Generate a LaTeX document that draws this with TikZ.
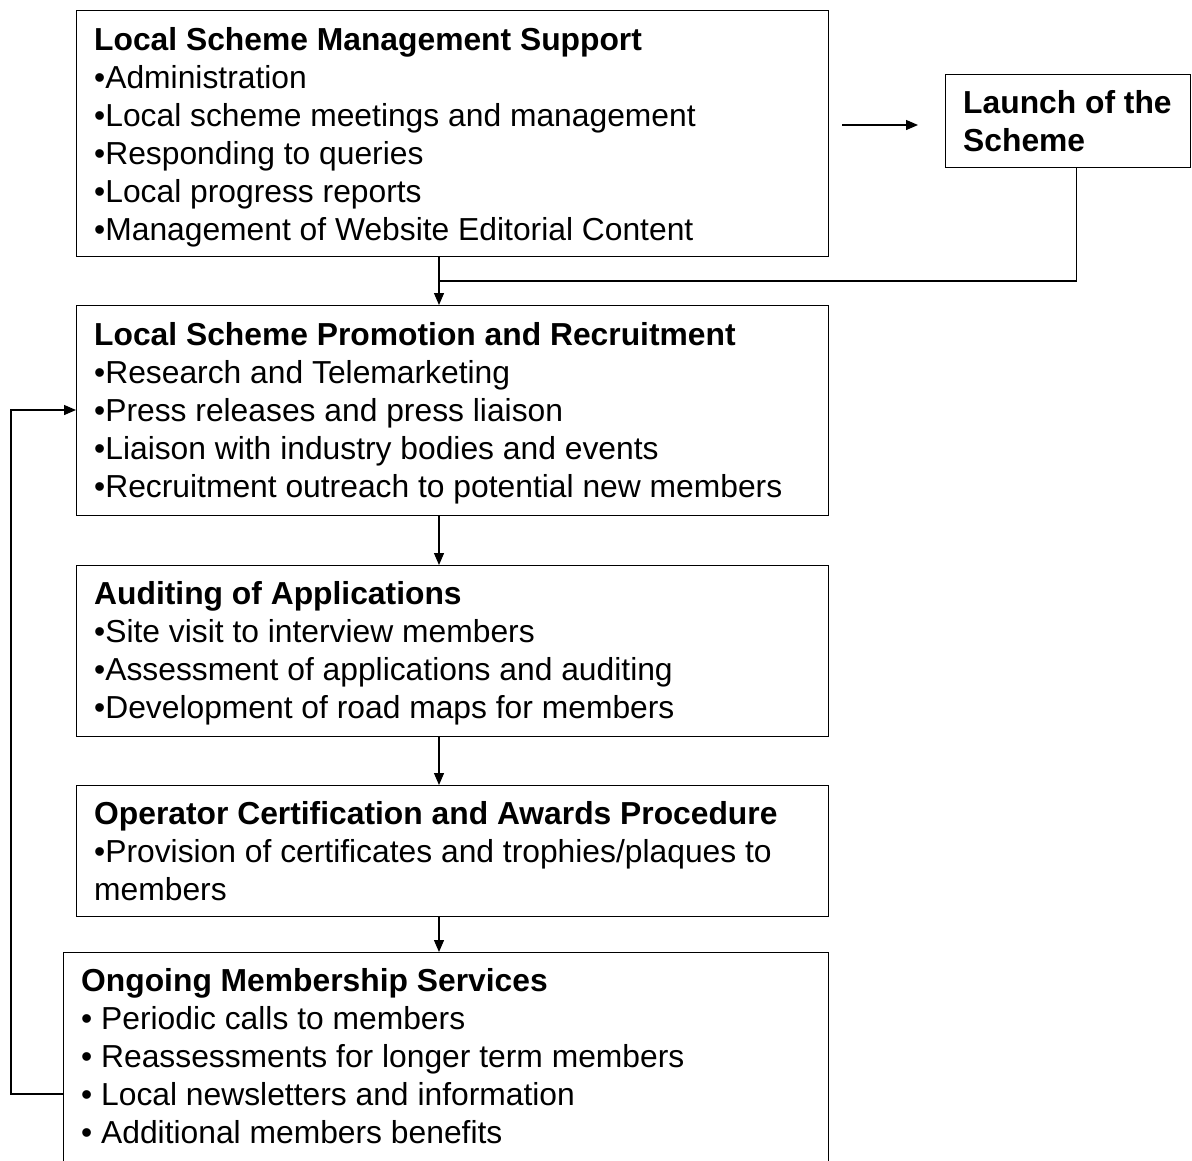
\documentclass[tikz,border=0pt]{standalone}
\usepackage{fontspec}
\setmainfont{Liberation Sans}
\usetikzlibrary{arrows.meta}
\begin{document}
\begin{tikzpicture}[x=1pt,y=-1pt,
  box/.style={draw, line width=1.4pt, anchor=north west, inner sep=0pt, rectangle},
  txt/.style={anchor=north west, inner sep=0pt, align=left, font=\fontsize{31.8}{38}\selectfont},
  conn/.style={line width=1.3pt},
  arr/.style={conn, -{Triangle[length=12pt,width=10pt]}}]
\useasboundingbox (0,0) rectangle (1192,1160);
\clip (0,0) rectangle (1192,1160);
\fill[white] (0,0) rectangle (1192,1160);
% boxes
\node[box, minimum width=752pt, minimum height=246pt] (b1) at (76,10) {};
\node[box, minimum width=245pt, minimum height=93pt] (launch) at (945,74) {};
\node[box, minimum width=752pt, minimum height=210pt] (b2) at (76,305) {};
\node[box, minimum width=752pt, minimum height=171pt] (b3) at (76,565) {};
\node[box, minimum width=752pt, minimum height=131pt] (b4) at (76,785) {};
\node[box, minimum width=765pt, minimum height=230pt] (b5) at (63,952) {};
% texts
\node[txt] (t1) at (94,27) {\textbf{Local Scheme Management Support}\\•Administration\\•Local scheme meetings and management\\•Responding to queries\\•Local progress reports\\•Management of Website Editorial Content};
\node[txt] (tl) at (963,90) {\textbf{Launch of the}\\\textbf{Scheme}};
\node[txt] (t2) at (94,322) {\textbf{Local Scheme Promotion and Recruitment}\\•Research and Telemarketing\\•Press releases and press liaison\\•Liaison with industry bodies and events\\•Recruitment outreach to potential new members};
\node[txt] (t3) at (94,581) {\textbf{Auditing of Applications}\\•Site visit to interview members\\•Assessment of applications and auditing\\•Development of road maps for members};
\node[txt] (t4) at (94,801) {\textbf{Operator Certification and Awards Procedure}\\•Provision of certificates and trophies/plaques to\\members};
\node[txt] (t5) at (81,968) {\textbf{Ongoing Membership Services}\\• Periodic calls to members\\• Reassessments for longer term members\\• Local newsletters and information\\• Additional members benefits};
% connectors
\coordinate (j) at (439,281);
\coordinate (a1) at (842,125);
\coordinate (a2) at (918,125);
\coordinate (fb) at (11,1094);
\coordinate (fbt) at (11,410);
\draw[arr] (a1) -- (a2);
\draw[conn] ([xshift=8pt]launch.south) |- (j);
\draw[arr] (b1.south -| j) -- (b2.north -| j);
\draw[arr] (b2.south -| j) -- (b3.north -| j);
\draw[arr] (b3.south -| j) -- (b4.north -| j);
\draw[arr] (b4.south -| j) -- (b5.north -| j);
\draw[arr] (b5.west |- fb) -- (fb) -- (fbt) -- (b2.west |- fbt);
\end{tikzpicture}
\end{document}
